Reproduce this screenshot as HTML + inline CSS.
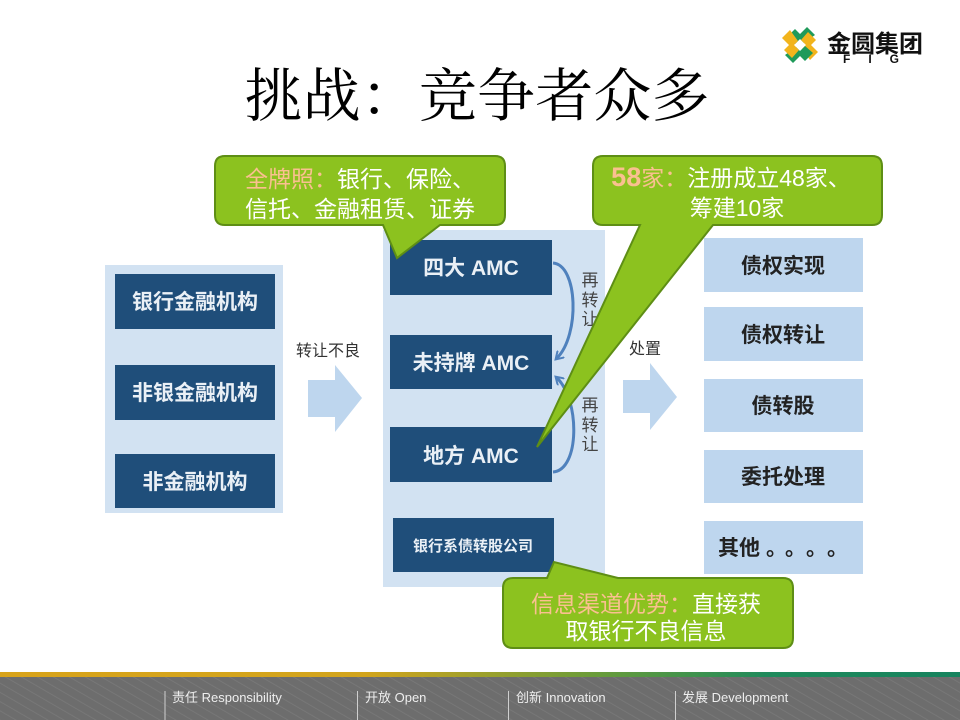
<!DOCTYPE html>
<html><head><meta charset="utf-8"><style>
html,body{margin:0;padding:0;background:#fff;}
svg{display:block;}
.s{font-family:"Liberation Sans","Noto Sans CJK SC",sans-serif;}
.sr{font-family:"Liberation Serif","Noto Serif CJK SC",serif;}
</style></head><body>
<svg width="960" height="720" viewBox="0 0 960 720" xmlns="http://www.w3.org/2000/svg">
<defs>
<linearGradient id="stripe" x1="0" x2="1" y1="0" y2="0">
<stop offset="0" stop-color="#d8a31a"/><stop offset="0.38" stop-color="#d2a41c"/>
<stop offset="0.62" stop-color="#6a9c3a"/><stop offset="0.8" stop-color="#1f8a5c"/><stop offset="1" stop-color="#17835e"/>
</linearGradient>
<pattern id="tex" width="8" height="8" patternUnits="userSpaceOnUse" patternTransform="rotate(-60)">
<rect width="8" height="8" fill="#6d6d6d"/><line x1="0" y1="0" x2="0" y2="8" stroke="#7a7a7a" stroke-width="1.5"/>
</pattern>
<marker id="ah" markerWidth="10" markerHeight="10" refX="6" refY="5" orient="auto" markerUnits="userSpaceOnUse">
<path d="M0,0 L8,5 L0,10" fill="none" stroke="#4f81bd" stroke-width="2"/>
</marker>
</defs>

<!-- Title -->
<text class="sr" x="477" y="116" font-size="58" text-anchor="middle" fill="#000" textLength="465" lengthAdjust="spacing">挑战：竞争者众多</text>

<!-- Logo -->
<g transform="translate(800,45)">
<polygon points="-15,-4 -7,-12 -2,-7 5,-14 13,-6 2,2 -2,-2 -7,3" fill="#1f9a5a" transform="translate(2,-4)"/>
<polygon points="-15,-4 -7,-12 -2,-7 5,-14 13,-6 2,2 -2,-2 -7,3" fill="#f2b41c" transform="rotate(90) translate(2,-4)"/>
<polygon points="-15,-4 -7,-12 -2,-7 5,-14 13,-6 2,2 -2,-2 -7,3" fill="#1f9a5a" transform="rotate(180) translate(2,-4)"/>
<polygon points="-15,-4 -7,-12 -2,-7 5,-14 13,-6 2,2 -2,-2 -7,3" fill="#f2b41c" transform="rotate(270) translate(2,-4)"/>
</g>
<text class="s" x="875" y="52" font-size="24" font-weight="bold" text-anchor="middle" fill="#111">金圆集团</text>
<text class="s" x="843" y="63" font-size="12" font-weight="bold" fill="#111" letter-spacing="18">FIG</text>

<!-- Left panel -->
<rect x="105" y="265" width="178" height="248" fill="#d2e2f2"/>
<rect x="115" y="274" width="160" height="55" fill="#1f4e7a"/>
<rect x="115" y="365" width="160" height="55" fill="#1f4e7a"/>
<rect x="115" y="454" width="160" height="54" fill="#1f4e7a"/>
<g class="s" font-size="21" font-weight="bold" fill="#eaf0f6" text-anchor="middle">
<text x="195" y="309">银行金融机构</text>
<text x="195" y="400">非银金融机构</text>
<text x="195" y="489">非金融机构</text>
</g>

<!-- arrow 1 -->
<text class="s" x="328" y="356" font-size="16" text-anchor="middle" fill="#333">转让不良</text>
<polygon points="308,380 335,380 335,365 362,398 335,432 335,417 308,417" fill="#bed6ee"/>

<!-- Middle panel -->
<rect x="383" y="230" width="222" height="357" fill="#d2e2f2"/>
<rect x="390" y="240" width="162" height="55" fill="#1f4e7a"/>
<rect x="390" y="335" width="162" height="54" fill="#1f4e7a"/>
<rect x="390" y="427" width="162" height="55" fill="#1f4e7a"/>
<rect x="393" y="518" width="161" height="54" fill="#1f4e7a"/>
<g class="s" font-size="21" font-weight="bold" fill="#eaf0f6" text-anchor="middle">
<text x="471" y="275">四大 AMC</text>
<text x="471" y="370">未持牌 AMC</text>
<text x="471" y="463">地方 AMC</text>
<text x="473" y="551" font-size="15">银行系债转股公司</text>
</g>
<path d="M553,263 C578,265 580,335 557,358" fill="none" stroke="#4f81bd" stroke-width="3" marker-end="url(#ah)"/>
<path d="M553,472 C580,470 580,400 557,378" fill="none" stroke="#4f81bd" stroke-width="3" marker-end="url(#ah)"/>
<g class="s" font-size="17" fill="#444" text-anchor="middle">
<text x="590" y="286">再</text><text x="590" y="306">转</text><text x="590" y="325">让</text>
<text x="590" y="411">再</text><text x="590" y="431">转</text><text x="590" y="450">让</text>
</g>

<!-- arrow 2 -->
<text class="s" x="645" y="354" font-size="16" text-anchor="middle" fill="#333">处置</text>
<polygon points="623,380 650,380 650,363 677,397 650,430 650,413 623,413" fill="#bed6ee"/>

<!-- Right boxes -->
<g fill="#bed6ee">
<rect x="704" y="238" width="159" height="54"/>
<rect x="704" y="307" width="159" height="54"/>
<rect x="704" y="379" width="159" height="53"/>
<rect x="704" y="450" width="159" height="53"/>
<rect x="704" y="521" width="159" height="53"/>
</g>
<g class="s" font-size="21" font-weight="bold" fill="#222" text-anchor="middle">
<text x="783" y="273">债权实现</text>
<text x="783" y="342">债权转让</text>
<text x="783" y="413">债转股</text>
<text x="783" y="484">委托处理</text>
<text x="718" y="555" text-anchor="start">其他</text>
<text x="766" y="555" text-anchor="start">。</text>
<text x="785" y="555" text-anchor="start">。</text>
<text x="806" y="555" text-anchor="start">。</text>
<text x="827" y="555" text-anchor="start">。</text>
</g>

<!-- Callout 1 -->
<path d="M225,156 H495 Q505,156 505,166 V215 Q505,225 495,225 H440 L397,258 L383,225 H225 Q215,225 215,215 V166 Q215,156 225,156 Z" fill="#8cc21f" stroke="#5e8e15" stroke-width="2"/>
<g class="s" font-size="23" text-anchor="middle">
<text x="360" y="187" fill="#fff"><tspan fill="#fac090">全牌照：</tspan>银行、保险、</text>
<text x="360" y="217" fill="#fff">信托、金融租赁、证券</text>
</g>

<!-- Callout 2 -->
<path d="M603,156 H872 Q882,156 882,166 V215 Q882,225 872,225 H713 L537,447 L640,225 H603 Q593,225 593,215 V166 Q593,156 603,156 Z" fill="#8cc21f" stroke="#5e8e15" stroke-width="2"/>
<g class="s" text-anchor="middle">
<text x="731" y="186" font-size="23" fill="#fff"><tspan fill="#fac090" font-weight="bold" font-size="27">58</tspan><tspan fill="#fac090">家：</tspan>注册成立48家、</text>
<text x="737" y="216" font-size="23" fill="#fff">筹建10家</text>
</g>

<!-- Callout 3 -->
<path d="M513,578 H547 L554,562 L618,578 H783 Q793,578 793,588 V638 Q793,648 783,648 H513 Q503,648 503,638 V588 Q503,578 513,578 Z" fill="#8cc21f" stroke="#5e8e15" stroke-width="2"/>
<g class="s" font-size="23" text-anchor="middle">
<text x="646" y="612" fill="#fff"><tspan fill="#fac090">信息渠道优势：</tspan>直接获</text>
<text x="646" y="639" fill="#fff">取银行不良信息</text>
</g>

<!-- Footer -->
<rect x="0" y="672" width="960" height="6" fill="url(#stripe)"/>
<rect x="0" y="677" width="960" height="43" fill="url(#tex)"/>
<g stroke="#cfcfcf" stroke-width="1">
<line x1="165" y1="691" x2="165" y2="720"/>
<line x1="357.5" y1="691" x2="357.5" y2="720"/>
<line x1="508.5" y1="691" x2="508.5" y2="720"/>
<line x1="675.5" y1="691" x2="675.5" y2="720"/>
</g>
<g class="s" font-size="13" fill="#eee">
<text x="172" y="702">责任 Responsibility</text>
<text x="365" y="702">开放 Open</text>
<text x="516" y="702">创新 Innovation</text>
<text x="682" y="702">发展 Development</text>
</g>
</svg>
</body></html>
